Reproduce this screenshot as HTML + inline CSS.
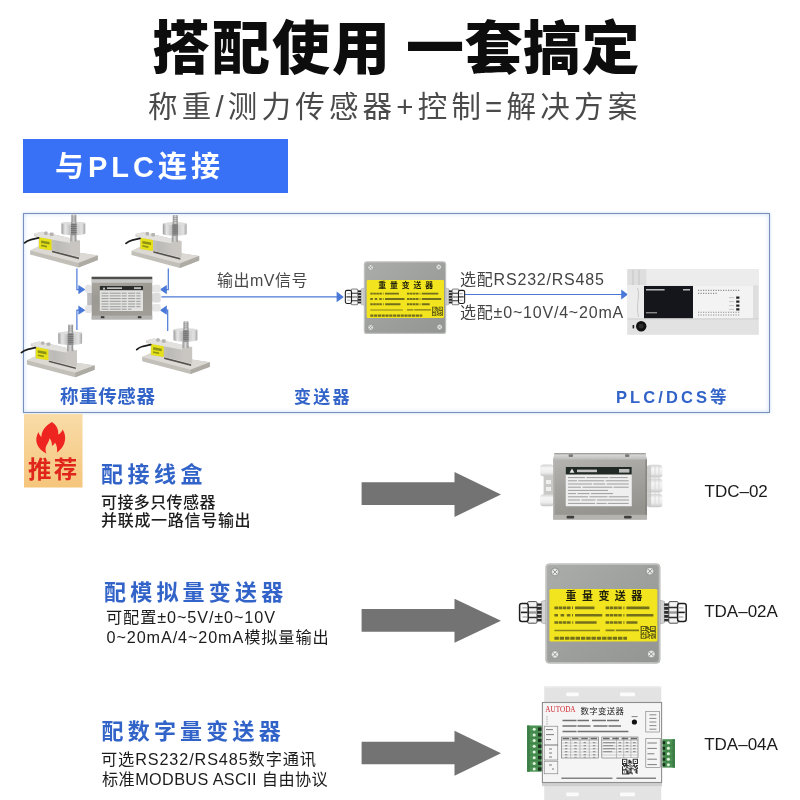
<!DOCTYPE html>
<html lang="zh-CN">
<head>
<meta charset="utf-8">
<title>搭配使用 一套搞定</title>
<style>
html,body{margin:0;padding:0;background:#fff;}
body{font-family:"Liberation Sans",sans-serif;}
#page{position:relative;width:800px;height:800px;overflow:hidden;background:#fff;filter:blur(.4px);}
.tx{position:absolute;margin:0;padding:0;overflow:visible;line-height:1;white-space:nowrap;font-weight:normal;}
.tx span{position:absolute;left:0;top:0;white-space:nowrap;font-family:"Liberation Sans","Noto Sans CJK SC",sans-serif;}
.abs{position:absolute;}
svg{display:block;}
</style>
</head>
<body>
<div id="page">
<h1 class="tx " style="left:152px;top:19px;width:238px;height:56px;font-size:49px"><span style="top:1px;font-size:58px;letter-spacing:2px;font-weight:900;color:#0d0d0d">搭配使用</span></h1>
<h1 class="tx " style="left:406px;top:19px;width:232px;height:56px;font-size:49px"><span style="top:1px;font-size:58px;letter-spacing:0.5px;font-weight:900;color:#0d0d0d">一套搞定</span></h1>
<h2 class="tx " style="left:148px;top:90px;width:491px;height:34px;font-size:27px"><span style="top:2px;font-size:29.5px;letter-spacing:4.2px;font-weight:normal;color:#4a4a4a">称重/测力传感器+控制=解决方案</span></h2>
<div class="abs" style="left:22.5px;top:138.75px;width:265.5px;height:54px;background:#3870f6"></div>
<h3 class="tx " style="left:55px;top:151px;width:167px;height:30px;font-size:26px"><span style="top:2px;font-size:29px;letter-spacing:4px;font-weight:bold;color:#ffffff">与PLC连接</span></h3>
<div class="abs" style="left:23.25px;top:213px;width:747.2px;height:199.9px;border:1.5px solid #7b90b8;box-sizing:border-box;box-shadow:0 0 3px rgba(120,170,235,.45),inset 0 0 4px rgba(120,170,235,.4)"></div>
<svg class="abs" style="left:0;top:200px" width="800" height="220" viewBox="0 200 800 220" role="img" aria-label="称重传感器 → 接线盒 → 重量变送器 → PLC/DCS">
<defs>
<linearGradient id="gCyl" x1="0" x2="1" y1="0" y2="0"><stop offset="0" stop-color="#9a9a9a"/><stop offset=".16" stop-color="#e6e6e6"/><stop offset=".36" stop-color="#c2c2c2"/><stop offset=".5" stop-color="#9a9a9a"/><stop offset=".64" stop-color="#cdcdcd"/><stop offset=".86" stop-color="#e2e2e2"/><stop offset="1" stop-color="#a4a4a4"/></linearGradient>
<linearGradient id="gStud" x1="0" x2="1" y1="0" y2="0"><stop offset="0" stop-color="#8f8f8f"/><stop offset=".5" stop-color="#d9d9d9"/><stop offset="1" stop-color="#888"/></linearGradient>
<linearGradient id="gBeam" x1="0" x2="1" y1="0" y2="0"><stop offset="0" stop-color="#d7d5d2"/><stop offset=".5" stop-color="#bcbab6"/><stop offset="1" stop-color="#cfccc8"/></linearGradient>
<linearGradient id="gBox" x1="0" x2=".3" y1="0" y2="1"><stop offset="0" stop-color="#adaaa4"/><stop offset=".5" stop-color="#9c9993"/><stop offset="1" stop-color="#a09d97"/></linearGradient>
<linearGradient id="gGl" x1="0" x2="0" y1="0" y2="1"><stop offset="0" stop-color="#8a8a8a"/><stop offset=".25" stop-color="#f4f4f4"/><stop offset=".55" stop-color="#cfcfcf"/><stop offset=".8" stop-color="#f0f0f0"/><stop offset="1" stop-color="#777"/></linearGradient>
<linearGradient id="gTx" x1="0" x2="0" y1="0" y2="1"><stop offset="0" stop-color="#adafad"/><stop offset="1" stop-color="#989a98"/></linearGradient>
<g id="sensor">
 <!-- base plate -->
 <path d="M30.1 250.4 L38.5 246.6 L97.8 255.6 L97.8 260 L78.5 267.4 L30.1 254.6Z" fill="#c2beb8"/>
 <path d="M30.1 250.4 L38.5 246.6 L97.8 255.6 L78.5 263Z" fill="#dcd9d4"/>
 <path d="M78.5 263 L97.8 255.6 L97.8 260 L78.5 267.4Z" fill="#aeaaa4"/>
 <!-- shadow slot under beam -->
 <path d="M52 250.6 L79 257.6 L79 259.2 L52 252.2Z" fill="#55524e"/>
 <!-- beam -->
 <path d="M34 233.6 L42 231.8 L62 236.2 L80 240.6 L80 256.8 L52 250.4 L38.5 248.6 L38.5 237.2 L34 236.2Z" fill="url(#gBeam)"/>
 <path d="M34 233.6 L42 231.8 L80 240.4 L72 243.2 L38.5 237.2Z" fill="#e3e1de"/>
 <rect x="44.2" y="231.6" width="3.4" height="3.4" rx="1" fill="#b5b3af"/><rect x="49.8" y="232.6" width="3.8" height="3.4" rx="1" fill="#b5b3af"/>
 <path d="M70 241.2 L80 240.4 L80 256.8 L70 254.6Z" fill="#c9c6c2"/>
 <!-- yellow label -->
 <path d="M39 237.3 L51.6 239.6 L51.6 250.4 L39 248.4Z" fill="#e6e018"/>
 <path d="M41 240.4 L49.6 242 L49.6 244.6 L41 243Z M41 244.6 L47 245.7 L47 247.4 L41 246.3Z" fill="#6d7a16" opacity=".75"/>
 <!-- cable -->
 <path d="M24.6 242.9 Q27 240.6 31 239.6 L38.6 237.9" fill="none" stroke="#1d1d1d" stroke-width="1.7" stroke-linecap="round"/>
 <!-- neck -->
 <rect x="70.4" y="232" width="6" height="9.4" fill="url(#gStud)"/>
 <!-- cylinder -->
 <path d="M61.4 223.2 A12 1.6 0 0 1 85.3 223.2 L85.3 233.4 A12 1.9 0 0 1 61.4 233.4Z" fill="url(#gCyl)"/>
 <ellipse cx="73.35" cy="223.2" rx="11.95" ry="1.5" fill="#dcdcdc"/>
 <rect x="71" y="222.6" width="5.6" height="12.6" fill="#8b8b8b" opacity=".85"/>
 <path d="M71 224.6h5.6M71 226.6h5.6M71 228.6h5.6M71 230.6h5.6M71 232.6h5.6" stroke="#5d5d5d" stroke-width=".6"/>
 <!-- stud -->
 <rect x="71.4" y="214.6" width="4.9" height="8.6" rx=".8" fill="url(#gStud)"/>
 <path d="M71.4 217h4.9M71.4 219h4.9M71.4 221h4.9" stroke="#8a8a8a" stroke-width=".5"/>
</g>
</defs>
<use href="#sensor"/>
<use href="#sensor" x="101.4" y="0.5"/>
<use href="#sensor" x="-3.2" y="109.8"/>
<use href="#sensor" x="112.1" y="106.7"/>
<g stroke="#4a78d8" stroke-width="1.2" fill="none"><path d="M76.9 268.5V289.6H80"/><path d="M76.9 330V310.2H80"/><path d="M168.3 268.5V289.6H165"/><path d="M167.7 331V310.2H165"/><path d="M161.4 296.9H338"/><path d="M463.5 294.5H622"/></g>
<g fill="#4a78d8"><path d="M78.4 285L85.4 289.6L78.4 294.2Z"/><path d="M78.4 305.6L85.4 310.2L78.4 314.8Z"/><path d="M166.8 285L159.8 289.6L166.8 294.2Z"/><path d="M166.8 305.6L159.8 310.2L166.8 314.8Z"/><path d="M336.6 291.6L343.8 296.9L336.6 302.2Z"/><path d="M621.2 289.4L628 294.5L621.2 299.6Z"/></g>
<g>
 <rect x="85.1" y="284.8" width="6.8" height="8.2" rx="2" fill="#e4e4e4"/><rect x="85.1" y="305.4" width="6.8" height="7.6" rx="2" fill="#e4e4e4"/>
 <rect x="87.2" y="293" width="4.8" height="12.4" fill="#bdbdbd"/>
 <rect x="152" y="284.8" width="8.7" height="7.6" rx="2" fill="#e6e6e6"/><rect x="152" y="293" width="8.7" height="9.6" rx="2" fill="#dcdcdc"/><rect x="152" y="304" width="8.7" height="7.6" rx="2" fill="#e6e6e6"/>
 <rect x="91.7" y="276.8" width="60.5" height="42.6" fill="url(#gBox)"/>
 <rect x="91.7" y="276.8" width="60.5" height="2.4" fill="#4e4e4c"/>
 <rect x="91.7" y="279.4" width="60.5" height="3.4" fill="#c6c6c4"/>
 <rect x="91.7" y="315.6" width="60.5" height="3.8" fill="#b4b4b2"/>
 <rect x="99.8" y="286" width="43.2" height="25" fill="#e2e2e0"/>
 <rect x="99.8" y="286" width="43.2" height="4.2" fill="#2a2d2a"/><path d="M102.6 289.4l1.4-2.4l1.4 2.4z" fill="#ddd"/><rect x="107" y="287.4" width="15" height="1.5" fill="#d2d2d2"/><rect x="134" y="287.2" width="7" height="1.9" fill="#bbb"/>
 <path d="M101.5 293.2h39M101.5 295.9h39M101.5 298.6h39M101.5 301.3h39M101.5 304h39M101.5 306.7h39M101.5 309.2h30" stroke="#9a9a9a" stroke-width="1" stroke-dasharray="7 1.2 11 1 5 1.4"/>
 <rect x="100.8" y="316.2" width="3.6" height="2" fill="#3a3a3a"/><rect x="137.8" y="316.2" width="3.6" height="2" fill="#3a3a3a"/>
</g>
<use href="#tx" transform="translate(363.9 261.4) scale(.716 .726) translate(-545.5 -563.5)"/>
<g>
 <rect x="627.4" y="269" width="131.2" height="65.6" fill="#e6e6e6"/>
 <rect x="627.4" y="269" width="131.2" height="16" fill="#ececec"/>
 <rect x="627.4" y="269" width="19" height="16" fill="#dedede"/>
 <path d="M633 270V285M639 270V285" stroke="#c4c4c4" stroke-width="1"/>
 <rect x="627.4" y="285" width="17" height="34" fill="#ececec"/>
 <path d="M637.5 288C640.5 296 635.5 304 638.5 317" stroke="#c9c9c9" stroke-width="1" fill="none"/>
 <rect x="693" y="285.6" width="60" height="33" fill="#f3f3f3"/>
 <rect x="753" y="285.6" width="5.6" height="33" fill="#dedede"/>
 <rect x="644" y="286" width="49" height="32.4" fill="#15161c"/>
 <rect x="646" y="289" width="18.6" height="1.5" fill="#b9b9b9"/><rect x="683" y="289" width="7" height="1.5" fill="#b9b9b9"/><rect x="646" y="312" width="11" height="1.4" fill="#8a8a8a"/>
 <path d="M698 290.4H740M698 293.4H718M698 312.2H740M698 315H740" stroke="#8e8e8e" stroke-width="1.1" stroke-dasharray="1.2 1.3"/>
 <path d="M736.2 296.4h3.2v2.4h-3.2zM736.2 300.4h3.2v2.4h-3.2zM736.2 304.4h3.2v2.4h-3.2zM736.2 308.2h3.2v2.4h-3.2z" fill="#222"/>
 <path d="M729 297.6h5M729 301.6h5M729 305.6h5M729 309.4h5" stroke="#bbb" stroke-width=".8"/>
 <rect x="627.4" y="319" width="131.2" height="15.6" fill="#e2e2e2"/>
 <rect x="627.4" y="318.4" width="131.2" height="1" fill="#cfcfcf"/>
 <circle cx="641.2" cy="326.2" r="5.2" fill="#111"/><circle cx="641.2" cy="326.2" r="2.4" fill="#2e2e2e"/>
 <rect x="632.6" y="325" width="1.6" height="3.4" fill="#222"/>
</g>
</svg>
<div class="tx " style="left:60px;top:387px;width:97px;height:20px;font-size:17px"><span style="top:1px;font-size:18.5px;letter-spacing:0.6px;font-weight:bold;color:#3163c8">称重传感器</span></div>
<div class="tx " style="left:294px;top:387px;width:58px;height:19px;font-size:15px"><span style="top:2px;font-size:17px;letter-spacing:2.2px;font-weight:bold;color:#3163c8">变送器</span></div>
<div class="tx " style="left:616px;top:387px;width:112px;height:19px;font-size:15px"><span style="top:2px;font-size:16.5px;letter-spacing:3.1px;font-weight:bold;color:#3163c8">PLC/DCS等</span></div>
<div class="tx " style="left:217px;top:272px;width:90px;height:17px;font-size:14px"><span style="top:0.5px;font-size:16px;letter-spacing:0.5px;color:#484848">输出mV信号</span></div>
<div class="tx " style="left:460px;top:272px;width:145px;height:16px;font-size:14px"><span style="top:0.3px;font-size:16px;letter-spacing:0.8px;color:#444">选配RS232/RS485</span></div>
<div class="tx " style="left:460px;top:305px;width:165px;height:16px;font-size:14px"><span style="top:0.3px;font-size:16px;letter-spacing:0.8px;color:#444">选配±0~10V/4~20mA</span></div>
<svg class="abs" style="left:0;top:412px" width="800" height="388" viewBox="0 412 800 388" role="img" aria-label="TDC-02 接线盒, TDA-02A 重量变送器, TDA-04A AUTODA 数字变送器">
<defs>
<linearGradient id="gBadge" x1="0" x2="0" y1="0" y2="1"><stop offset="0" stop-color="#f9dca8"/><stop offset="1" stop-color="#f5c57c"/></linearGradient>
<linearGradient id="gJb" x1="0" x2=".25" y1="0" y2="1"><stop offset="0" stop-color="#bab8b4"/><stop offset=".45" stop-color="#a6a4a0"/><stop offset="1" stop-color="#95938e"/></linearGradient>
<linearGradient id="gJbTop" x1="0" x2="0" y1="0" y2="1"><stop offset="0" stop-color="#8e8e8c"/><stop offset=".3" stop-color="#d6d6d4"/><stop offset="1" stop-color="#bcbcb9"/></linearGradient>
<linearGradient id="gWg" x1="0" x2="0" y1="0" y2="1"><stop offset="0" stop-color="#d2d2d2"/><stop offset=".3" stop-color="#f6f6f6"/><stop offset=".7" stop-color="#ececec"/><stop offset="1" stop-color="#c4c4c4"/></linearGradient>
<linearGradient id="gT2" x1="0" x2="1" y1="0" y2="1"><stop offset="0" stop-color="#abadaa"/><stop offset=".5" stop-color="#9ea09d"/><stop offset="1" stop-color="#939592"/></linearGradient>
<linearGradient id="gGl2" x1="0" x2="0" y1="0" y2="1"><stop offset="0" stop-color="#6f6f6f"/><stop offset=".2" stop-color="#f2f2f2"/><stop offset=".45" stop-color="#bdbdbd"/><stop offset=".7" stop-color="#f4f4f4"/><stop offset="1" stop-color="#6a6a6a"/></linearGradient>
<g id="screw"><circle r="4" fill="#d9dad8" stroke="#7f817e" stroke-width=".7"/><circle r="2.4" fill="#efefef"/><path d="M-2.2-2.2L2.2 2.2M2.2-2.2L-2.2 2.2" stroke="#8b8d8a" stroke-width="1"/></g>
</defs>
<rect x="24" y="414" width="58.5" height="73.5" fill="url(#gBadge)"/>
<path d="M51.9 422 C56.5 425 58.8 429.6 58.2 434.6 C60.4 433.4 62 431.2 62.6 429.4 C65.6 434 65.9 439.4 64 444 C62.6 447.4 60 450.4 56.9 452.6 C57.6 448.6 56.8 445.6 55 442.6 C54.2 444.4 53.2 445.4 51.9 446 C52.1 443.2 51.4 440.6 49.6 438.2 C49 441.6 47.4 443.6 46.2 446 C45.2 448.4 45.4 450.8 46.4 453.4 C42.2 451.6 38.8 448.6 37.2 444.6 C35.6 440.6 36 436 38.6 432 C39 434.2 39.9 435.8 41.4 437 C41.4 431 45.6 425.6 51.9 422Z" fill="#ee2420"/>
<path d="M361.6 482.3H454.5V471.9L501 494.4L454.5 516.9V504.9H361.6Z" fill="#737373"/>
<path d="M361.6 608.9H454.5V598.7L501 620.7L454.5 642.7V631.7H361.6Z" fill="#737373"/>
<path d="M361.6 741.7H454.5V730.7L501 753.25L454.5 775.8V764.3H361.6Z" fill="#737373"/>
<g>
 <!-- left glands / bracket -->
 <rect x="543.6" y="474" width="10.4" height="22" fill="#c9c9c7"/>
 <path d="M546 480h5v4h-5zM546 487h5v4h-5z" fill="#efefef"/>
 <rect x="540" y="464.6" width="14" height="11.6" rx="3.5" fill="url(#gWg)"/>
 <rect x="540" y="494.2" width="14" height="12" rx="3.5" fill="url(#gWg)"/>
 <!-- right glands -->
 <rect x="646.5" y="464.8" width="16" height="12.6" rx="3.5" fill="url(#gWg)"/>
 <rect x="646.5" y="478.6" width="16" height="14" rx="3.5" fill="url(#gWg)"/>
 <rect x="646.5" y="493.8" width="16" height="13.4" rx="3.5" fill="url(#gWg)"/>
 <rect x="646.5" y="466.2" width="4.6" height="39.6" fill="#c4c4c2" opacity=".8"/><path d="M655 465.5v41M659 465.5v41" stroke="#d6d6d6" stroke-width=".8"/>
 <!-- body -->
 <path d="M554.6 453H645.4L646.75 459.5V519.5H553.25V459.5Z" fill="url(#gJb)"/>
 <path d="M554.6 453H645.4L646.75 459.6H553.25Z" fill="url(#gJbTop)"/>
 <rect x="553.25" y="514.8" width="93.5" height="4.7" fill="#b5b3af"/>
 <rect x="553.25" y="459.4" width="1.2" height="55.4" fill="#b9b7b3"/><rect x="645.55" y="459.4" width="1.2" height="55.4" fill="#7d7b77"/>
 <!-- screws -->
 <rect x="568.6" y="454.3" width="4.4" height="2.6" rx="1" fill="#7a7a78"/><rect x="625" y="454.3" width="4.4" height="2.6" rx="1" fill="#7a7a78"/>
 <rect x="566.6" y="515.8" width="7.6" height="2.8" rx="1" fill="#3f3f3d"/><rect x="624" y="515.8" width="7.6" height="2.8" rx="1" fill="#3f3f3d"/>
 <!-- label -->
 <rect x="565.75" y="467" width="66" height="39.25" fill="#efefef"/>
 <rect x="565.75" y="467" width="66" height="7.5" fill="#222a25"/>
 <path d="M569.6 472.8l2.4-4.2l2.4 4.2z" fill="#e9e9e9"/>
 <rect x="577" y="469.6" width="20" height="2.6" fill="#d6d6d6" opacity=".9"/>
 <rect x="619" y="469" width="10.4" height="3.6" fill="#bdbdbd"/>
 <g stroke="#8f8f8f" stroke-width="1" opacity=".85">
  <path d="M568 477.6h61.6" stroke-dasharray="17 1.5 22 1.2 18"/>
  <path d="M568 480.8h61.6" stroke-dasharray="9 1.2 26 1.5 23"/>
  <path d="M568 484h61.6" stroke-dasharray="24 1.2 12 1.5 22"/>
  <path d="M568 487.2h61.6" stroke-dasharray="13 1.5 30 1.2 15"/>
  <path d="M568 490.4h40"/>
  <path d="M568 493.6h45" stroke-dasharray="8 1.5 12 1.5 22"/>
  <path d="M568 496.8h61.6" stroke-dasharray="20 1.5 18 1.2 20"/>
  <path d="M568 500h61.6" stroke-dasharray="12 1.5 14 1.5 32"/>
  <path d="M568 503.4h61.6" stroke-dasharray="27 1.5 10 1.2 21"/>
 </g>
</g>
<g id="tx">
<g>
<path d="M541.4 601.4L545.8 600.2V624L541.4 622.8Z" fill="#d4d4d4" stroke="#8d8d8d" stroke-width=".5"/>
<rect x="536.6" y="603.4" width="5" height="18" fill="#2b2b2b"/>
<path d="M536.6 606.4h5M536.6 610.4h5M536.6 614.4h5M536.6 618.4h5" stroke="#cfcfcf" stroke-width="1.3"/>
<rect x="527.6" y="601.6" width="9.4" height="21.6" rx="1.2" fill="#f4f4f4" stroke="#3a3a3a" stroke-width=".9"/>
<path d="M528 607.4h9M528 617.6h9" stroke="#2f2f2f" stroke-width="1.5"/>
<path d="M528.4 612.5h8.4" stroke="#9a9a9a" stroke-width="2.4"/>
<rect x="519.6" y="603.4" width="8.6" height="18" rx="2.2" fill="#fbfbfb" stroke="#1e1e1e" stroke-width="1.5"/>
<path d="M521 612.4h6.6" stroke="#222" stroke-width="1.6"/>
<path d="M522.4 607.8h4.6M522.4 617h4.6" stroke="#b5b5b5" stroke-width="1.6"/>
</g>
<g transform="translate(1205.8 0) scale(-1 1)">
<path d="M541.4 601.4L545.8 600.2V624L541.4 622.8Z" fill="#d4d4d4" stroke="#8d8d8d" stroke-width=".5"/>
<rect x="536.6" y="603.4" width="5" height="18" fill="#2b2b2b"/>
<path d="M536.6 606.4h5M536.6 610.4h5M536.6 614.4h5M536.6 618.4h5" stroke="#cfcfcf" stroke-width="1.3"/>
<rect x="527.6" y="601.6" width="9.4" height="21.6" rx="1.2" fill="#f4f4f4" stroke="#3a3a3a" stroke-width=".9"/>
<path d="M528 607.4h9M528 617.6h9" stroke="#2f2f2f" stroke-width="1.5"/>
<path d="M528.4 612.5h8.4" stroke="#9a9a9a" stroke-width="2.4"/>
<rect x="519.6" y="603.4" width="8.6" height="18" rx="2.2" fill="#fbfbfb" stroke="#1e1e1e" stroke-width="1.5"/>
<path d="M521 612.4h6.6" stroke="#222" stroke-width="1.6"/>
<path d="M522.4 607.8h4.6M522.4 617h4.6" stroke="#b5b5b5" stroke-width="1.6"/>
</g>
<rect x="545.5" y="563.5" width="114.8" height="100" rx="4" fill="url(#gT2)"/>
<rect x="546.3" y="564.3" width="113.2" height="98.4" rx="3.4" fill="none" stroke="#c9cbc8" stroke-width="1.6" opacity=".75"/>
<rect x="549.4" y="589" width="108" height="52.6" rx="1.6" fill="#f2e41e"/>
<use href="#screw" x="555" y="571.9"/>
<use href="#screw" x="650" y="571.2"/>
<use href="#screw" x="555" y="654.5"/>
<use href="#screw" x="651.3" y="654"/>
<text x="565.5" y="600.3" font-family="&quot;Liberation Sans&quot;,&quot;Noto Sans CJK SC&quot;,sans-serif" font-size="11" font-weight="bold" letter-spacing="5.45" fill="#1e1e0c">重量变送器</text>
<path d="M554.4 607.9H594.4" stroke="#45431a" stroke-width="2.6" stroke-dasharray="3.6 .6 3.6 .6 3.6 .6 3.6 1.4 1 2 20" opacity="0.72"/>
<path d="M605.6 607.9H650.6" stroke="#45431a" stroke-width="2.6" stroke-dasharray="3.6 .6 3.6 .6 3.6 .6 3.6 1.6 1 2 23" opacity="0.72"/>
<path d="M554.4 615.3H602.25" stroke="#45431a" stroke-width="2.6" stroke-dasharray="3.6 2.6 3.6 2.6 3.6 1.6 1 2 28" opacity="0.72"/>
<path d="M605.6 615.3H654" stroke="#45431a" stroke-width="2.6" stroke-dasharray="3.6 .6 3.6 .6 3.6 .6 3.6 1.6 1 2 27" opacity="0.72"/>
<path d="M554.4 622.5H596.6" stroke="#45431a" stroke-width="2.6" stroke-dasharray="3.6 .6 3.6 .6 3.6 .6 3.6 1.6 1 2 23" opacity="0.72"/>
<path d="M605.6 622.5H638.25" stroke="#45431a" stroke-width="2.6" stroke-dasharray="3.6 .6 3.6 .6 3.6 .6 3.6 1.6 1 2 11" opacity="0.72"/>
<path d="M554.4 630.4H600" stroke="#45431a" stroke-width="1.5" stroke-dasharray="47.3" opacity="0.6"/>
<path d="M605.6 630.4H639" stroke="#45431a" stroke-width="1.8" stroke-dasharray="9 1.2 24" opacity="0.65"/>
<path d="M554.4 638.3H627" stroke="#45431a" stroke-width="3" stroke-dasharray="4.4 .9" opacity="0.72"/>
<path d="M640.60 626.00h1.17v0.98h-1.17zM641.77 626.00h1.17v0.98h-1.17zM642.94 626.00h1.17v0.98h-1.17zM644.11 626.00h1.17v0.98h-1.17zM645.28 626.00h1.17v0.98h-1.17zM646.45 626.00h1.17v0.98h-1.17zM649.95 626.00h1.17v0.98h-1.17zM651.12 626.00h1.17v0.98h-1.17zM652.29 626.00h1.17v0.98h-1.17zM653.46 626.00h1.17v0.98h-1.17zM654.63 626.00h1.17v0.98h-1.17zM640.60 626.98h1.17v0.98h-1.17zM645.28 626.98h1.17v0.98h-1.17zM646.45 626.98h1.17v0.98h-1.17zM647.62 626.98h1.17v0.98h-1.17zM649.95 626.98h1.17v0.98h-1.17zM654.63 626.98h1.17v0.98h-1.17zM640.60 627.97h1.17v0.98h-1.17zM642.94 627.97h1.17v0.98h-1.17zM645.28 627.97h1.17v0.98h-1.17zM646.45 627.97h1.17v0.98h-1.17zM647.62 627.97h1.17v0.98h-1.17zM649.95 627.97h1.17v0.98h-1.17zM652.29 627.97h1.17v0.98h-1.17zM654.63 627.97h1.17v0.98h-1.17zM640.60 628.95h1.17v0.98h-1.17zM645.28 628.95h1.17v0.98h-1.17zM647.62 628.95h1.17v0.98h-1.17zM648.78 628.95h1.17v0.98h-1.17zM649.95 628.95h1.17v0.98h-1.17zM654.63 628.95h1.17v0.98h-1.17zM640.60 629.94h1.17v0.98h-1.17zM641.77 629.94h1.17v0.98h-1.17zM642.94 629.94h1.17v0.98h-1.17zM644.11 629.94h1.17v0.98h-1.17zM645.28 629.94h1.17v0.98h-1.17zM646.45 629.94h1.17v0.98h-1.17zM649.95 629.94h1.17v0.98h-1.17zM651.12 629.94h1.17v0.98h-1.17zM652.29 629.94h1.17v0.98h-1.17zM653.46 629.94h1.17v0.98h-1.17zM654.63 629.94h1.17v0.98h-1.17zM640.60 630.92h1.17v0.98h-1.17zM646.45 630.92h1.17v0.98h-1.17zM647.62 630.92h1.17v0.98h-1.17zM649.95 630.92h1.17v0.98h-1.17zM651.12 630.92h1.17v0.98h-1.17zM652.29 630.92h1.17v0.98h-1.17zM653.46 630.92h1.17v0.98h-1.17zM654.63 630.92h1.17v0.98h-1.17zM640.60 631.91h1.17v0.98h-1.17zM642.94 631.91h1.17v0.98h-1.17zM645.28 631.91h1.17v0.98h-1.17zM647.62 631.91h1.17v0.98h-1.17zM648.78 631.91h1.17v0.98h-1.17zM654.63 631.91h1.17v0.98h-1.17zM640.60 632.89h1.17v0.98h-1.17zM641.77 632.89h1.17v0.98h-1.17zM642.94 632.89h1.17v0.98h-1.17zM645.28 632.89h1.17v0.98h-1.17zM647.62 632.89h1.17v0.98h-1.17zM651.12 632.89h1.17v0.98h-1.17zM652.29 632.89h1.17v0.98h-1.17zM654.63 632.89h1.17v0.98h-1.17zM640.60 633.88h1.17v0.98h-1.17zM641.77 633.88h1.17v0.98h-1.17zM642.94 633.88h1.17v0.98h-1.17zM644.11 633.88h1.17v0.98h-1.17zM645.28 633.88h1.17v0.98h-1.17zM647.62 633.88h1.17v0.98h-1.17zM648.78 633.88h1.17v0.98h-1.17zM652.29 633.88h1.17v0.98h-1.17zM653.46 633.88h1.17v0.98h-1.17zM654.63 633.88h1.17v0.98h-1.17zM640.60 634.86h1.17v0.98h-1.17zM645.28 634.86h1.17v0.98h-1.17zM648.78 634.86h1.17v0.98h-1.17zM649.95 634.86h1.17v0.98h-1.17zM651.12 634.86h1.17v0.98h-1.17zM652.29 634.86h1.17v0.98h-1.17zM654.63 634.86h1.17v0.98h-1.17zM640.60 635.85h1.17v0.98h-1.17zM642.94 635.85h1.17v0.98h-1.17zM645.28 635.85h1.17v0.98h-1.17zM647.62 635.85h1.17v0.98h-1.17zM648.78 635.85h1.17v0.98h-1.17zM651.12 635.85h1.17v0.98h-1.17zM653.46 635.85h1.17v0.98h-1.17zM654.63 635.85h1.17v0.98h-1.17zM640.60 636.83h1.17v0.98h-1.17zM645.28 636.83h1.17v0.98h-1.17zM646.45 636.83h1.17v0.98h-1.17zM647.62 636.83h1.17v0.98h-1.17zM651.12 636.83h1.17v0.98h-1.17zM653.46 636.83h1.17v0.98h-1.17zM654.63 636.83h1.17v0.98h-1.17zM640.60 637.82h1.17v0.98h-1.17zM641.77 637.82h1.17v0.98h-1.17zM642.94 637.82h1.17v0.98h-1.17zM644.11 637.82h1.17v0.98h-1.17zM645.28 637.82h1.17v0.98h-1.17zM648.78 637.82h1.17v0.98h-1.17zM651.12 637.82h1.17v0.98h-1.17zM652.29 637.82h1.17v0.98h-1.17zM654.63 637.82h1.17v0.98h-1.17z" fill="#3a3912" opacity="0.8"/>
</g>
<g>
 <rect x="544.25" y="686.25" width="117" height="114" fill="#e3e3e3"/>
 <rect x="544.25" y="686.25" width="117" height="1.2" fill="#efefef"/>
 <rect x="566.25" y="692.5" width="12.5" height="3.8" rx="1" fill="#fbfbfb"/><rect x="620" y="692.5" width="15" height="3.8" rx="1" fill="#fbfbfb"/>
 <rect x="566.25" y="792.4" width="12.5" height="3.8" rx="1" fill="#fbfbfb"/><rect x="620" y="792.4" width="15" height="3.8" rx="1" fill="#fbfbfb"/>
 <rect x="542" y="783" width="120" height="3.2" fill="#cfcfcf"/>
 <!-- terminals -->
 <rect x="527.1" y="725.5" width="14.6" height="46.2" fill="#4a9152"/>
 <rect x="662.4" y="739.2" width="12.6" height="28.4" fill="#4a9152"/>
 <rect x="527.1" y="725.5" width="2.6" height="46.2" fill="#3c7f46"/><rect x="672.4" y="739.2" width="2.6" height="28.4" fill="#3c7f46"/>
 <g fill="#16301b">
  <rect x="538" y="727.4" width="3.6" height="3.4"/><rect x="538" y="733.1" width="3.6" height="3.4"/><rect x="538" y="738.8" width="3.6" height="3.4"/><rect x="538" y="744.5" width="3.6" height="3.4"/><rect x="538" y="750.2" width="3.6" height="3.4"/><rect x="538" y="755.9" width="3.6" height="3.4"/><rect x="538" y="761.6" width="3.6" height="3.4"/><rect x="538" y="767.3" width="3.6" height="3.4"/>
  <rect x="662.6" y="741.2" width="2.6" height="3"/><rect x="662.6" y="746.7" width="2.6" height="3"/><rect x="662.6" y="752.2" width="2.6" height="3"/><rect x="662.6" y="757.7" width="2.6" height="3"/><rect x="662.6" y="763.2" width="2.6" height="3"/>
 </g>
 <g fill="#dff3dc">
  <circle cx="534.2" cy="729.2" r="1.5"/><circle cx="534.2" cy="734.9" r="1.5"/><circle cx="534.2" cy="740.6" r="1.5"/><circle cx="534.2" cy="746.3" r="1.5"/><circle cx="534.2" cy="752" r="1.5"/><circle cx="534.2" cy="757.7" r="1.5"/><circle cx="534.2" cy="763.4" r="1.5"/><circle cx="534.2" cy="769.1" r="1.5"/>
  <circle cx="668.4" cy="742.7" r="1.5"/><circle cx="668.4" cy="748.2" r="1.5"/><circle cx="668.4" cy="753.7" r="1.5"/><circle cx="668.4" cy="759.2" r="1.5"/><circle cx="668.4" cy="764.7" r="1.5"/>
 </g>
 <path d="M527.1 732h11M527.1 737.7h11M527.1 743.4h11M527.1 749.1h11M527.1 754.8h11M527.1 760.5h11M527.1 766.2h11M665 745.4h10M665 750.9h10M665 756.4h10M665 761.9h10" stroke="#3b7d45" stroke-width=".7"/>
 <!-- face -->
 <rect x="542.4" y="702.5" width="119.2" height="80" fill="#f5f5f5" stroke="#8e8e8e" stroke-width="1.1"/>
</g>
<text x="580.5" y="714.1" font-family="&quot;Liberation Sans&quot;,&quot;Noto Sans CJK SC&quot;,sans-serif" font-size="8.4" letter-spacing="0.4" fill="#222">数字变送器</text>
<text x="545.3" y="712.4" font-family="&quot;Liberation Serif&quot;,serif" font-size="7.2" fill="#d0242c">AUTODA</text>
<circle cx="634.4" cy="722" r="2.6" fill="#111"/>
<path d="M631.6 716.6h6" stroke="#777" stroke-width=".9"/>
<g stroke="#4c4c4c" stroke-width="1.5" opacity=".78"><path d="M562.5 720.4H619" stroke-dasharray="14 1 11.5 3 14 1 12"/><path d="M562.5 726.1H621" stroke-dasharray="14 1 13 3 14 1 12.5"/><path d="M562.5 731.6H628.4" stroke-dasharray="14 1 51"/></g>
<g stroke="#6a6a6a" stroke-width=".6" fill="none">
<rect x="561.4" y="737" width="37.2" height="21"/><rect x="601.8" y="737" width="36.2" height="21"/>
<path d="M561.4 740.0h37.2M601.8 740.0h36.2" opacity="0.9"/>
<path d="M561.4 743.0h37.2M601.8 743.0h36.2" opacity="0.5"/>
<path d="M561.4 746.0h37.2M601.8 746.0h36.2" opacity="0.5"/>
<path d="M561.4 749.0h37.2M601.8 749.0h36.2" opacity="0.5"/>
<path d="M561.4 752.0h37.2M601.8 752.0h36.2" opacity="0.5"/>
<path d="M561.4 755.0h37.2M601.8 755.0h36.2" opacity="0.5"/>
<path d="M570.7 737v21" opacity=".6"/>
<path d="M580 737v21" opacity=".6"/>
<path d="M589.3 737v21" opacity=".6"/>
<path d="M616.5 737v21" opacity=".6"/>
<path d="M623.7 737v21" opacity=".6"/>
<path d="M630.9 737v21" opacity=".6"/>
</g>
<path d="M562.6 738.6h35M603 738.6h34" stroke="#444" stroke-width="1.5" stroke-dasharray="6.6 2.7" opacity=".8"/>
<g stroke="#666" stroke-width="1.1" opacity=".6" stroke-dasharray="2.4 6.9"><path d="M565 742.6h33M565 745.6h33M565 748.6h33M565 751.6h33M565 754.6h33M565 757.2h33"/></g>
<g stroke="#666" stroke-width="1.1" opacity=".6"><path d="M603.2 742.6h12M603.2 745.6h10M603.2 748.6h12M603.2 751.6h9" /><path d="M618.6 742.6h19M618.6 745.6h19M618.6 748.6h19M618.6 751.6h19" stroke-dasharray="2.6 4.6"/></g>
<rect x="621.2" y="758.0" width="17.6" height="17.400000000000002" fill="#fafafa"/><path d="M622.00 758.80h1.07v1.05h-1.07zM623.07 758.80h1.07v1.05h-1.07zM624.13 758.80h1.07v1.05h-1.07zM625.20 758.80h1.07v1.05h-1.07zM626.27 758.80h1.07v1.05h-1.07zM632.67 758.80h1.07v1.05h-1.07zM633.73 758.80h1.07v1.05h-1.07zM634.80 758.80h1.07v1.05h-1.07zM635.87 758.80h1.07v1.05h-1.07zM636.93 758.80h1.07v1.05h-1.07zM622.00 759.85h1.07v1.05h-1.07zM626.27 759.85h1.07v1.05h-1.07zM628.40 759.85h1.07v1.05h-1.07zM629.47 759.85h1.07v1.05h-1.07zM632.67 759.85h1.07v1.05h-1.07zM636.93 759.85h1.07v1.05h-1.07zM622.00 760.91h1.07v1.05h-1.07zM624.13 760.91h1.07v1.05h-1.07zM626.27 760.91h1.07v1.05h-1.07zM628.40 760.91h1.07v1.05h-1.07zM629.47 760.91h1.07v1.05h-1.07zM630.53 760.91h1.07v1.05h-1.07zM632.67 760.91h1.07v1.05h-1.07zM634.80 760.91h1.07v1.05h-1.07zM636.93 760.91h1.07v1.05h-1.07zM622.00 761.96h1.07v1.05h-1.07zM626.27 761.96h1.07v1.05h-1.07zM628.40 761.96h1.07v1.05h-1.07zM629.47 761.96h1.07v1.05h-1.07zM630.53 761.96h1.07v1.05h-1.07zM632.67 761.96h1.07v1.05h-1.07zM636.93 761.96h1.07v1.05h-1.07zM622.00 763.01h1.07v1.05h-1.07zM623.07 763.01h1.07v1.05h-1.07zM624.13 763.01h1.07v1.05h-1.07zM625.20 763.01h1.07v1.05h-1.07zM626.27 763.01h1.07v1.05h-1.07zM628.40 763.01h1.07v1.05h-1.07zM630.53 763.01h1.07v1.05h-1.07zM632.67 763.01h1.07v1.05h-1.07zM633.73 763.01h1.07v1.05h-1.07zM634.80 763.01h1.07v1.05h-1.07zM635.87 763.01h1.07v1.05h-1.07zM636.93 763.01h1.07v1.05h-1.07zM622.00 764.07h1.07v1.05h-1.07zM623.07 764.07h1.07v1.05h-1.07zM625.20 764.07h1.07v1.05h-1.07zM626.27 764.07h1.07v1.05h-1.07zM629.47 764.07h1.07v1.05h-1.07zM633.73 764.07h1.07v1.05h-1.07zM623.07 765.12h1.07v1.05h-1.07zM624.13 765.12h1.07v1.05h-1.07zM625.20 765.12h1.07v1.05h-1.07zM626.27 765.12h1.07v1.05h-1.07zM627.33 765.12h1.07v1.05h-1.07zM628.40 765.12h1.07v1.05h-1.07zM630.53 765.12h1.07v1.05h-1.07zM632.67 765.12h1.07v1.05h-1.07zM633.73 765.12h1.07v1.05h-1.07zM635.87 765.12h1.07v1.05h-1.07zM636.93 765.12h1.07v1.05h-1.07zM622.00 766.17h1.07v1.05h-1.07zM624.13 766.17h1.07v1.05h-1.07zM626.27 766.17h1.07v1.05h-1.07zM629.47 766.17h1.07v1.05h-1.07zM631.60 766.17h1.07v1.05h-1.07zM633.73 766.17h1.07v1.05h-1.07zM634.80 766.17h1.07v1.05h-1.07zM635.87 766.17h1.07v1.05h-1.07zM622.00 767.23h1.07v1.05h-1.07zM626.27 767.23h1.07v1.05h-1.07zM627.33 767.23h1.07v1.05h-1.07zM630.53 767.23h1.07v1.05h-1.07zM634.80 767.23h1.07v1.05h-1.07zM636.93 767.23h1.07v1.05h-1.07zM622.00 768.28h1.07v1.05h-1.07zM625.20 768.28h1.07v1.05h-1.07zM628.40 768.28h1.07v1.05h-1.07zM629.47 768.28h1.07v1.05h-1.07zM630.53 768.28h1.07v1.05h-1.07zM631.60 768.28h1.07v1.05h-1.07zM632.67 768.28h1.07v1.05h-1.07zM635.87 768.28h1.07v1.05h-1.07zM636.93 768.28h1.07v1.05h-1.07zM622.00 769.33h1.07v1.05h-1.07zM623.07 769.33h1.07v1.05h-1.07zM624.13 769.33h1.07v1.05h-1.07zM625.20 769.33h1.07v1.05h-1.07zM626.27 769.33h1.07v1.05h-1.07zM629.47 769.33h1.07v1.05h-1.07zM630.53 769.33h1.07v1.05h-1.07zM633.73 769.33h1.07v1.05h-1.07zM634.80 769.33h1.07v1.05h-1.07zM635.87 769.33h1.07v1.05h-1.07zM622.00 770.39h1.07v1.05h-1.07zM626.27 770.39h1.07v1.05h-1.07zM627.33 770.39h1.07v1.05h-1.07zM628.40 770.39h1.07v1.05h-1.07zM630.53 770.39h1.07v1.05h-1.07zM635.87 770.39h1.07v1.05h-1.07zM636.93 770.39h1.07v1.05h-1.07zM622.00 771.44h1.07v1.05h-1.07zM624.13 771.44h1.07v1.05h-1.07zM626.27 771.44h1.07v1.05h-1.07zM627.33 771.44h1.07v1.05h-1.07zM629.47 771.44h1.07v1.05h-1.07zM630.53 771.44h1.07v1.05h-1.07zM634.80 771.44h1.07v1.05h-1.07zM635.87 771.44h1.07v1.05h-1.07zM622.00 772.49h1.07v1.05h-1.07zM626.27 772.49h1.07v1.05h-1.07zM627.33 772.49h1.07v1.05h-1.07zM628.40 772.49h1.07v1.05h-1.07zM629.47 772.49h1.07v1.05h-1.07zM630.53 772.49h1.07v1.05h-1.07zM631.60 772.49h1.07v1.05h-1.07zM635.87 772.49h1.07v1.05h-1.07zM636.93 772.49h1.07v1.05h-1.07zM622.00 773.55h1.07v1.05h-1.07zM623.07 773.55h1.07v1.05h-1.07zM624.13 773.55h1.07v1.05h-1.07zM625.20 773.55h1.07v1.05h-1.07zM626.27 773.55h1.07v1.05h-1.07zM627.33 773.55h1.07v1.05h-1.07zM628.40 773.55h1.07v1.05h-1.07zM631.60 773.55h1.07v1.05h-1.07z" fill="#222" opacity="0.92"/>
<path d="M561.4 778.2H656" stroke="#555" stroke-width="1.6" stroke-dasharray="51 4 39.6" opacity=".72"/>
<g fill="none" stroke="#777" stroke-width=".6"><rect x="645.8" y="711.6" width="13.8" height="20.4"/><rect x="645.8" y="738.6" width="14.4" height="28.8"/><rect x="544.2" y="726.2" width="13.6" height="18.8"/><rect x="544.2" y="745" width="13.6" height="15"/><rect x="544.2" y="761.2" width="13.6" height="12.6"/></g>
<g stroke="#555" stroke-width="1" opacity=".75"><path d="M647.4 743h9.5M647.4 748.4h9.5M647.4 753.8h7M647.4 759.2h9.5M647.4 764.6h9.5" /><path d="M649.4 714.8h7M649.4 718.4h7M649.4 722h7M649.4 725.6h7M649.4 729.2h7" stroke-width=".9"/><path d="M546 729.6h7M546 734.6h8M546 739.6h5M549 749h3M549 753h3M549 757h3M549 765h3M552 769h2" /></g>
<path d="M547 716v9" stroke="#999" stroke-width=".8" stroke-dasharray="1.4 1"/>
</svg>
<div class="tx " style="left:28px;top:458px;width:50px;height:23px;font-size:19px"><span style="top:0.9px;font-size:23.5px;letter-spacing:2.3px;font-weight:bold;color:#e0261c">推荐</span></div>
<div class="tx " style="left:101px;top:462px;width:103px;height:24px;font-size:20px"><span style="top:1.8px;font-size:22px;letter-spacing:4.5px;font-weight:bold;color:#3163c8">配接线盒</span></div>
<div class="tx " style="left:100px;top:493px;width:117px;height:18px;font-size:14px"><span style="left:1px;top:1.6px;font-size:16px;letter-spacing:0.4px;font-weight:500;color:#1c1c1c">可接多只传感器</span></div>
<div class="tx " style="left:100px;top:511px;width:151px;height:18px;font-size:14px"><span style="left:1px;top:1.6px;font-size:16px;letter-spacing:0.7px;font-weight:500;color:#1c1c1c">并联成一路信号输出</span></div>
<div class="tx " style="left:104px;top:580px;width:181px;height:24px;font-size:20px"><span style="top:1.9px;font-size:22px;letter-spacing:4.2px;font-weight:bold;color:#3163c8">配模拟量变送器</span></div>
<div class="tx " style="left:106px;top:609px;width:171px;height:17px;font-size:14px"><span style="top:0.3px;font-size:16.2px;letter-spacing:0.9px;color:#1c1c1c">可配置±0~5V/±0~10V</span></div>
<div class="tx " style="left:106px;top:628px;width:222px;height:18px;font-size:14px"><span style="left:0.5px;top:1.1px;font-size:16.2px;letter-spacing:0.9px;color:#1c1c1c">0~20mA/4~20mA模拟量输出</span></div>
<div class="tx " style="left:101px;top:719px;width:182px;height:23px;font-size:20px"><span style="left:0.5px;top:1.6px;font-size:22px;letter-spacing:4.2px;font-weight:bold;color:#3163c8">配数字量变送器</span></div>
<div class="tx " style="left:101px;top:750px;width:216px;height:18px;font-size:14px"><span style="top:1.1px;font-size:16.2px;letter-spacing:0.9px;color:#1c1c1c">可选RS232/RS485数字通讯</span></div>
<div class="tx " style="left:101px;top:770px;width:228px;height:18px;font-size:14px"><span style="left:1px;top:1.1px;font-size:16.2px;letter-spacing:0.4px;color:#1c1c1c">标准MODBUS ASCII 自由协议</span></div>
<div class="tx lbl" style="left:703px;top:483px;width:66px;height:16px;font-size:16px"><span style="left:1.5px;top:-0.25px;font-size:17px;color:#1a1a1a">TDC–02</span></div>
<div class="tx lbl" style="left:703px;top:604px;width:77px;height:15px;font-size:16px"><span style="left:1.2px;top:-0.65px;font-size:17px;color:#1a1a1a">TDA–02A</span></div>
<div class="tx lbl" style="left:703px;top:736px;width:77px;height:15px;font-size:16px"><span style="left:1.2px;top:-0.5px;font-size:17px;color:#1a1a1a">TDA–04A</span></div>
</div>
</body>
</html>
